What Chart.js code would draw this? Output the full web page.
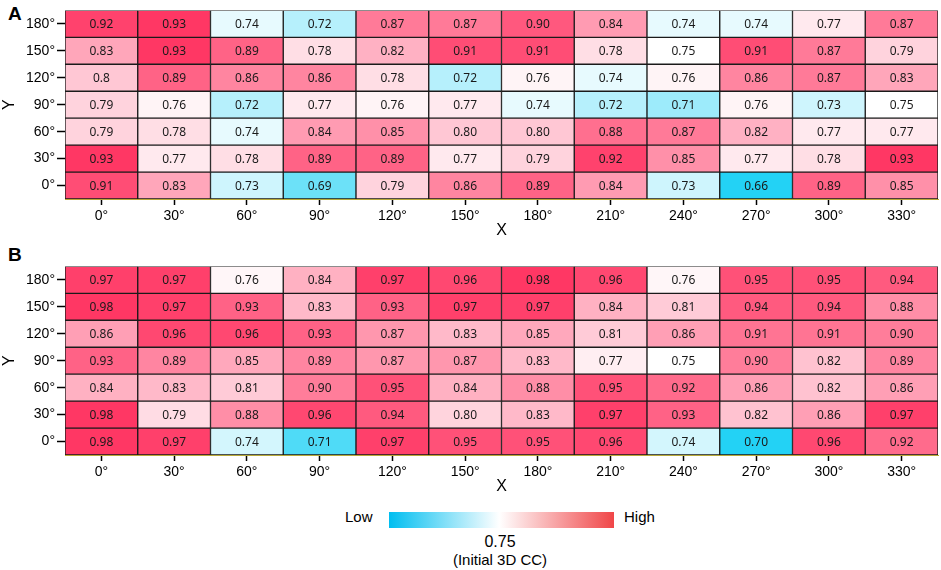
<!DOCTYPE html>
<html>
<head>
<meta charset="utf-8">
<script src="https://cdn.jsdelivr.net/npm/chart.js@4.4.1/dist/chart.umd.min.js"></script>
<style>
  body { margin: 0; background: #fff; width: 941px; height: 570px; position: relative; overflow: hidden;
         font-family: "Liberation Sans", Arial, sans-serif; }
  canvas { position: absolute; left: 0; }
  .panel { position: absolute; left: 8px; font-weight: bold; font-size: 19px; }
  .cb { position: absolute; left: 389px; top: 512px; width: 225px; height: 16px;
        background: linear-gradient(to right, rgb(0,190,240), #fff 49%, rgb(240,70,72)); }
  .txt { position: absolute; font-size: 15px; color: #000; }
</style>
</head>
<body>
<div class="panel" style="top:3px">A</div>
<div class="panel" style="top:244px">B</div>
<canvas id="chartA" width="941" height="240" style="top:0"></canvas>
<canvas id="chartB" width="941" height="240" style="top:256px"></canvas>
<div class="cb"></div>
<div class="txt" style="left:345px;top:508px">Low</div>
<div class="txt" style="left:624px;top:508px">High</div>
<div class="txt" style="left:400px;width:200px;text-align:center;top:533px;font-size:16px">0.75</div>
<div class="txt" style="left:400px;width:200px;text-align:center;top:551px">(Initial 3D CC)</div>
<script>
// columns (X) and rows (Y, bottom to top)
const xLabels = ['0°', '30°', '60°', '90°', '120°', '150°', '180°', '210°', '240°', '270°', '300°', '330°'];
const yLabels = ['0°', '30°', '60°', '90°', '120°', '150°', '180°'];

// panel A, one array per row
const a0   = [0.91, 0.83, 0.73, 0.69, 0.79, 0.86, 0.89, 0.84, 0.73, 0.66, 0.89, 0.85];
const a30  = [0.93, 0.77, 0.78, 0.89, 0.89, 0.77, 0.79, 0.92, 0.85, 0.77, 0.78, 0.93];
const a60  = [0.79, 0.78, 0.74, 0.84, 0.85, 0.80, 0.80, 0.88, 0.87, 0.82, 0.77, 0.77];
const a90  = [0.79, 0.76, 0.72, 0.77, 0.76, 0.77, 0.74, 0.72, 0.71, 0.76, 0.73, 0.75];
const a120 = [0.80, 0.89, 0.86, 0.86, 0.78, 0.72, 0.76, 0.74, 0.76, 0.86, 0.87, 0.83];
const a150 = [0.83, 0.93, 0.89, 0.78, 0.82, 0.91, 0.91, 0.78, 0.75, 0.91, 0.87, 0.79];
const a180 = [0.92, 0.93, 0.74, 0.72, 0.87, 0.87, 0.90, 0.84, 0.74, 0.74, 0.77, 0.87];

// panel B
const b0   = [0.98, 0.97, 0.74, 0.71, 0.97, 0.95, 0.95, 0.96, 0.74, 0.70, 0.96, 0.92];
const b30  = [0.98, 0.79, 0.88, 0.96, 0.94, 0.80, 0.83, 0.97, 0.93, 0.82, 0.86, 0.97];
const b60  = [0.84, 0.83, 0.81, 0.90, 0.95, 0.84, 0.88, 0.95, 0.92, 0.86, 0.82, 0.86];
const b90  = [0.93, 0.89, 0.85, 0.89, 0.87, 0.87, 0.83, 0.77, 0.75, 0.90, 0.82, 0.89];
const b120 = [0.86, 0.96, 0.96, 0.93, 0.87, 0.83, 0.85, 0.81, 0.86, 0.91, 0.91, 0.90];
const b150 = [0.98, 0.97, 0.93, 0.83, 0.93, 0.97, 0.97, 0.84, 0.81, 0.94, 0.94, 0.88];
const b180 = [0.97, 0.97, 0.76, 0.84, 0.97, 0.96, 0.98, 0.96, 0.76, 0.95, 0.95, 0.94];

// the one cell printed without trailing zero in A (row 120°, col 0°)
const shortTextA = ['4,0'];

const rowsA = [a0, a30, a60, a90, a120, a150, a180];
const rowsB = [b0, b30, b60, b90, b120, b150, b180];
const mid = 0.75;

function makeColor(lo, hi) {
    return function(v) {
        let r, g, b;
        if (v >= mid) {
            const t = Math.min(1, (v - mid) / (hi - mid));
            r = 255; g = 255 - t * 200; b = 255 - t * 155;
        } else {
            const t = Math.min(1, (mid - v) / (mid - lo));
            r = 255 - t * 220; g = 255 - t * 45; b = 255 - t * 10;
        }
        return `rgb(${Math.round(r)},${Math.round(g)},${Math.round(b)})`;
    };
}

// write the value in the middle of each cell
const cellText = {
    id: 'cellText',
    afterDatasetsDraw(chart, args, opts) {
        const ctx = chart.ctx;
        ctx.save();
        ctx.font = '12px "Noto Sans", "Open Sans", sans-serif';
        ctx.fillStyle = '#1a1a1a';
        ctx.textAlign = 'center';
        ctx.textBaseline = 'middle';
        chart.data.datasets.forEach((ds, r) => {
            chart.getDatasetMeta(r).data.forEach((el, c) => {
                const v = ds.values[c];
                const s = opts.short.includes(r + ',' + c) ? String(v) : v.toFixed(2);
                ctx.fillText(s, el.x, (el.y + el.base) / 2 + 1);
            });
        });
        ctx.restore();
    }
};

function drawPanel(id, rows, short) {
    const all = rows.flat();
    const color = makeColor(Math.min(...all), Math.max(...all));
    const datasets = rows.map((vals, r) => ({
        data: vals.map(() => [r, r + 1]),
        values: vals,
        backgroundColor: vals.map(color),
        borderColor: '#1a1a1a',
        borderWidth: 1,
        borderSkipped: false,
        barPercentage: 1,
        categoryPercentage: 1
    }));
    const tickFont = { family: '"Liberation Sans", Arial, sans-serif', size: 14 };
    new Chart(document.getElementById(id), {
        type: 'bar',
        data: { labels: xLabels, datasets },
        plugins: [cellText],
        options: {
            responsive: false,
            animation: false,
            layout: { padding: { top: 3, right: 3, left: 0, bottom: 0 } },
            datasets: { bar: { grouped: false } },
            plugins: {
                legend: { display: false },
                tooltip: { enabled: false },
                cellText: { short }
            },
            scales: {
                x: {
                    grid: { drawOnChartArea: false, offset: false, tickLength: 6, tickColor: '#000', tickWidth: 1.5 },
                    border: { color: '#b8a838', width: 1 },
                    ticks: { color: '#000', font: tickFont, padding: 3 },
                    title: { display: true, text: 'X', color: '#000', font: { family: tickFont.family, size: 16 }, padding: 0 },
                    afterFit(scale) { scale.height = 41; }
                },
                y: {
                    min: 0,
                    max: 7,
                    grid: { drawOnChartArea: false, tickLength: 8, tickColor: '#000', tickWidth: 1.5 },
                    border: { display: false },
                    afterBuildTicks(scale) { scale.ticks = yLabels.map((l, i) => ({ value: i + 0.5 })); },
                    ticks: { color: '#000', font: tickFont, padding: 2, callback: (v, i) => yLabels[i] },
                    title: { display: true, text: 'Y', color: '#000', font: { family: tickFont.family, size: 16 }, padding: 0 },
                    afterFit(scale) { scale.width = 65; }
                }
            }
        }
    });
}

drawPanel('chartA', rowsA, shortTextA);
drawPanel('chartB', rowsB, []);
</script>
</body>
</html>
